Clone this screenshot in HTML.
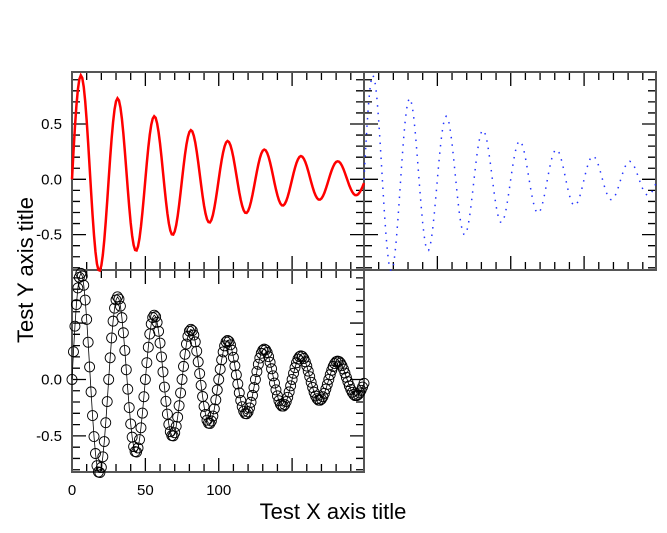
<!DOCTYPE html>
<html><head><meta charset="utf-8"><style>
body{margin:0;background:#fff;}
svg{display:block;font-family:"Liberation Sans",sans-serif;}
</style></head><body>
<svg id="chart" width="667" height="533" viewBox="0 0 667 533" xmlns="http://www.w3.org/2000/svg">
<text x="0" y="0" transform="translate(33,270) rotate(-90)" text-anchor="middle" font-size="22">Test Y axis title</text>
<text x="333" y="519" text-anchor="middle" font-size="22">Test X axis title</text>
</svg>
<script>
const yValues = [
0,.246,.472,.664,.811,.905,.940,.916,.835,.704,.532,.330,.111,-.110,-.320,-.506,-.656,-.764,-.820,-.825,-.779,-.685,-.550,-.383,-.196,
0,.192,.368,.517,.632,.705,.732,.713,.650,.548,.414,.257,.086,-.086,-.249,-.394,-.511,-.595,-.639,-.643,-.607,-.533,-.428,-.298,-.153,
0,.149,.286,.403,.492,.549,.570,.556,.506,.427,.323,.200,.067,-.067,-.194,-.307,-.398,-.463,-.497,-.500,-.472,-.415,-.334,-.232,-.119,
0,.116,.223,.314,.383,.428,.444,.433,.394,.333,.251,.156,.052,-.052,-.151,-.239,-.310,-.361,-.387,-.390,-.368,-.324,-.260,-.181,-.093,
0,.091,.174,.244,.298,.333,.346,.337,.307,.259,.196,.121,.041,-.040,-.118,-.186,-.241,-.281,-.302,-.304,-.287,-.252,-.202,-.141,-.072,
0,.070,.135,.190,.232,.259,.269,.262,.239,.202,.152,.095,.032,-.032,-.092,-.145,-.188,-.219,-.235,-.236,-.223,-.196,-.158,-.110,-.056,
0,.055,.105,.148,.181,.202,.210,.204,.186,.157,.119,.074,.025,-.025,-.071,-.113,-.146,-.170,-.183,-.184,-.174,-.153,-.123,-.085,-.044,
0,.043,.082,.115,.141,.157,.163,.159,.145,.122,.092,.057,.019,-.019,-.056,-.088,-.114,-.133,-.143,-.143,-.135,-.119,-.096,-.067,-.034];
const xTickLabels = ["0","50","100"];
const xTickValues = [0,50,100];
const yTickLabelsTop = ["0.5","0.0","-0.5"];
const yTickValuesTop = [0.5,0,-0.5];
const yTickLabelsBottom = ["0.0","-0.5"];
const yTickValuesBottom = [0,-0.5];

const svg = document.getElementById('chart');
const NS = 'http://www.w3.org/2000/svg';
const XMIN=0, XMAX=199, YMIN=-0.82, YMAX=0.97;
function mk(tag, attrs){const e=document.createElementNS(NS,tag);for(const k in attrs)e.setAttribute(k,attrs[k]);svg.appendChild(e);return e;}
function panel(x0,x1,y0,y1){
  return {x0,x1,y0,y1,
    sx:v=>x0+(v-XMIN)/(XMAX-XMIN)*(x1-x0),
    sy:v=>y1-(v-YMIN)/(YMAX-YMIN)*(y1-y0)};
}
const P = [panel(72,364,72,270), panel(364,656,72,270), panel(72,364,270,472)];
const names=['top-left-panel','top-right-panel','bottom-left-panel'];

P.forEach((p,i)=>{
  const g=mk('g',{});
  
  
  let d='';
  for(let v=0; v<=190; v+=10){
    const x=p.sx(v), L=(v%50===0)?14:8;
    d+=`M${x},${p.y0}v${L}M${x},${p.y1}v${-L}`;
  }
  for(let k=-8;k<=9;k++){
    const v=k/10, y=p.sy(v), L=(k%5===0)?14:8;
    d+=`M${p.x0},${y}h${L}M${p.x1},${y}h${-L}`;
  }
  const t=document.createElementNS(NS,'path');
  t.setAttribute('d',d);t.setAttribute('stroke','#000');t.setAttribute('stroke-width','1.3');t.setAttribute('fill','none');
  g.appendChild(t);
  const r=document.createElementNS(NS,'rect');
  r.setAttribute('x',p.x0);r.setAttribute('y',p.y0);r.setAttribute('width',p.x1-p.x0);r.setAttribute('height',p.y1-p.y0);
  r.setAttribute('fill','none');r.setAttribute('stroke','#555');r.setAttribute('stroke-width','2');
  g.appendChild(r);
  svg.appendChild(g);
});

function linePath(p){return yValues.map((v,i)=>(i?'L':'M')+p.sx(i).toFixed(2)+','+p.sy(v).toFixed(2)).join('');}

const l1=mk('path',{d:linePath(P[0]),stroke:'#ff0000','stroke-width':'2.5',fill:'none'});


const l2=mk('path',{d:linePath(P[1]),stroke:'#2233ff','stroke-width':'1.5',fill:'none','stroke-dasharray':'1.5 6'});


const l3=mk('path',{d:linePath(P[2]),stroke:'#000','stroke-width':'0.8',fill:'none'});


yValues.forEach((v,i)=>{
  const c=mk('circle',{cx:P[2].sx(i),cy:P[2].sy(v),r:5,fill:'none',stroke:'#000','stroke-width':'0.9'});
  
  
});

yTickValuesTop.forEach((v,i)=>{
  const t=mk('text',{x:62,y:P[0].sy(v)+5,'text-anchor':'end','font-size':'15'});
  t.textContent=yTickLabelsTop[i];
  
  
});
yTickValuesBottom.forEach((v,i)=>{
  const t=mk('text',{x:62,y:P[2].sy(v)+5,'text-anchor':'end','font-size':'15'});
  t.textContent=yTickLabelsBottom[i];
  
  
});
xTickValues.forEach((v,i)=>{
  const t=mk('text',{x:P[2].sx(v),y:495,'text-anchor':'middle','font-size':'15'});
  t.textContent=xTickLabels[i];
  
  
});
</script>
</body></html>
